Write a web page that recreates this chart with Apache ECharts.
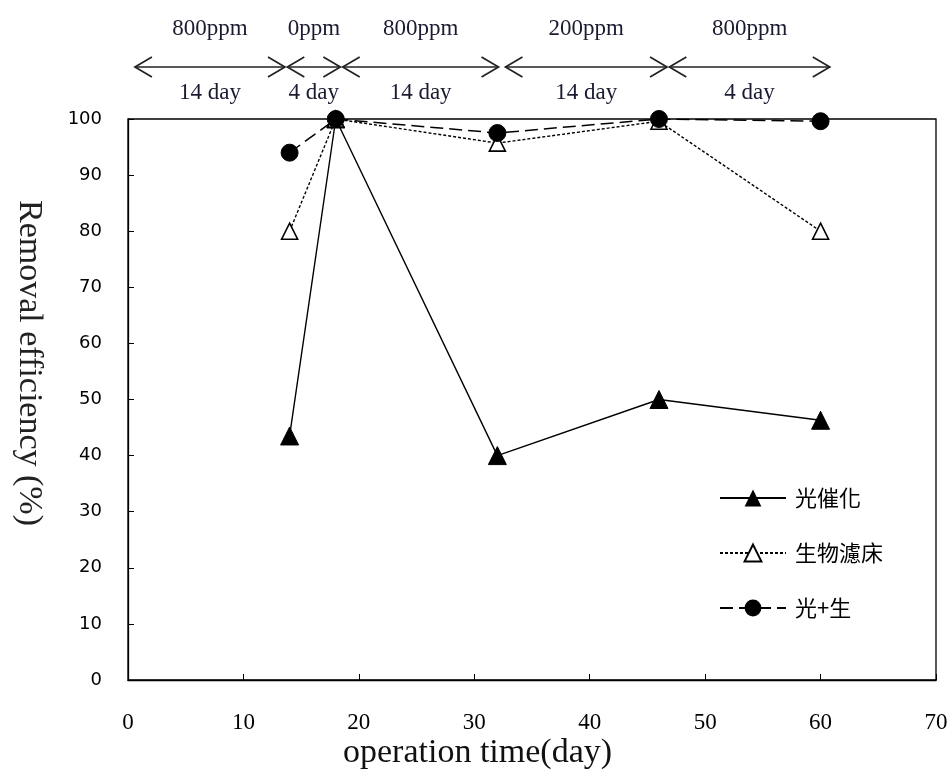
<!DOCTYPE html>
<html>
<head>
<meta charset="utf-8">
<script src="https://cdn.jsdelivr.net/npm/echarts@6/dist/echarts.min.js"></script>
<style>
  html, body { margin: 0; padding: 0; background: #fff; }
  #chart { width: 952px; height: 776px; }
</style>
</head>
<body>
<div id="chart"></div>
<script>
// operation day of each sample
var days = [14, 18, 32, 46, 60];
// removal efficiency (%)
var photo = [43.5, 100, 40, 50, 46.3];      // 光催化
var biofilter = [80, 100, 95.7, 99.6, 80];  // 生物濾床
var combined = [94, 100, 97.5, 100, 99.6];  // 光+生

// phases drawn as arrows above the plot (day range)
var phaseStart = [0.6, 13.8, 18.6, 32.7, 46.9];
var phaseEnd = [13.6, 18.4, 32.1, 46.7, 60.8];
var phaseConc = ['800ppm', '0ppm', '800ppm', '200ppm', '800ppm'];
var phaseDays = ['14 day', '4 day', '14 day', '14 day', '4 day'];

var xTicks = [0, 10, 20, 30, 40, 50, 60, 70];
var yTicks = [0, 10, 20, 30, 40, 50, 60, 70, 80, 90, 100];

function pairs(ys) {
  return days.map(function (d, i) { return [d, ys[i]]; });
}

var chart = echarts.init(document.getElementById('chart'));

var serif = '"Liberation Serif", "DejaVu Serif", serif';
var cjk = '"Noto Sans CJK TC", "Noto Sans CJK SC", sans-serif';

var option = {
  animation: false,
  backgroundColor: '#fff',
  grid: {
    left: 128, right: 16, top: 119, bottom: 96,
    show: true, borderColor: '#000', borderWidth: 1.3, backgroundColor: 'transparent'
  },
  // axis titles are not centred on their axes in the original, so place them by hand
  graphic: [{
    type: 'text', left: 12, top: 200,
    rotation: -Math.PI / 2,
    style: { text: 'Removal efficiency (%)', font: '34px ' + serif, fill: '#222' }
  }, {
    type: 'text', left: 343, top: 736,
    style: { text: 'operation time(day)', font: '34px ' + serif, fill: '#111' }
  }],
  legend: {
    orient: 'vertical',
    left: 714, top: 482,
    itemWidth: 66, itemHeight: 21, itemGap: 33,
    textStyle: { fontFamily: cjk, fontSize: 22, color: '#000', padding: [0, 0, 0, 4] },
    data: ['光催化', '生物濾床', '光+生']
  },
  xAxis: {
    type: 'value',
    min: xTicks[0], max: xTicks[xTicks.length - 1], interval: 10,
    axisLine: { lineStyle: { color: '#000', width: 1.3 } },
    axisTick: { inside: true, length: 6, lineStyle: { color: '#000' } },
    axisLabel: { margin: 31, fontFamily: serif, fontSize: 23, color: '#000' },
    splitLine: { show: false }
  },
  yAxis: {
    type: 'value',
    min: yTicks[0], max: yTicks[yTicks.length - 1], interval: 10,
    axisLine: { lineStyle: { color: '#000', width: 1.3 } },
    axisTick: { inside: true, length: 6, lineStyle: { color: '#000' } },
    axisLabel: { margin: 26, fontFamily: '"DejaVu Sans", sans-serif', fontSize: 18, color: '#000' },
    splitLine: { show: false }
  },
  series: [
    {
      name: '光催化', type: 'line', data: pairs(photo),
      symbol: 'triangle', symbolSize: 18,
      lineStyle: { color: '#000', width: 1.4, type: 'solid' },
      itemStyle: { color: '#000', borderColor: '#000' }
    },
    {
      name: '生物濾床', type: 'line', data: pairs(biofilter),
      symbol: 'triangle', symbolSize: 16,
      lineStyle: { color: '#000', width: 1.4, type: [3, 2] },
      itemStyle: { color: '#fff', borderColor: '#000', borderWidth: 1.6 }
    },
    {
      name: '光+生', type: 'line', data: pairs(combined),
      symbol: 'circle', symbolSize: 17,
      lineStyle: { color: '#000', width: 1.5, type: [13, 6] },
      itemStyle: { color: '#000', borderColor: '#000' }
    },
    {
      type: 'custom', silent: true, clip: false,
      data: phaseStart.map(function (s, i) { return [s, phaseEnd[i], 100]; }),
      encode: { x: [0, 1], y: 2 },
      renderItem: function (params, api) {
        var i = params.dataIndex;
        var a = api.coord([api.value(0), api.value(2)]);
        var b = api.coord([api.value(1), api.value(2)]);
        var top = a[1];
        var y = top - 52;
        var x1 = a[0], x2 = b[0], mid = (x1 + x2) / 2;
        var st = { stroke: '#222', lineWidth: 1.7, fill: null };
        return {
          type: 'group',
          children: [
            { type: 'line', shape: { x1: x1, y1: y, x2: x2, y2: y }, style: st },
            { type: 'polyline', shape: { points: [[x1 + 17, y - 10], [x1, y], [x1 + 17, y + 10]] }, style: st },
            { type: 'polyline', shape: { points: [[x2 - 17, y - 10], [x2, y], [x2 - 17, y + 10]] }, style: st },
            { type: 'text', style: { text: phaseConc[i], x: mid, y: top - 90, align: 'center', verticalAlign: 'middle',
              font: '23px ' + serif, fill: '#1a1a30' } },
            { type: 'text', style: { text: phaseDays[i], x: mid, y: top - 26, align: 'center', verticalAlign: 'middle',
              font: '23px ' + serif, fill: '#1a1a30' } }
          ]
        };
      }
    }
  ]
};

chart.setOption(option);
</script>
</body>
</html>
